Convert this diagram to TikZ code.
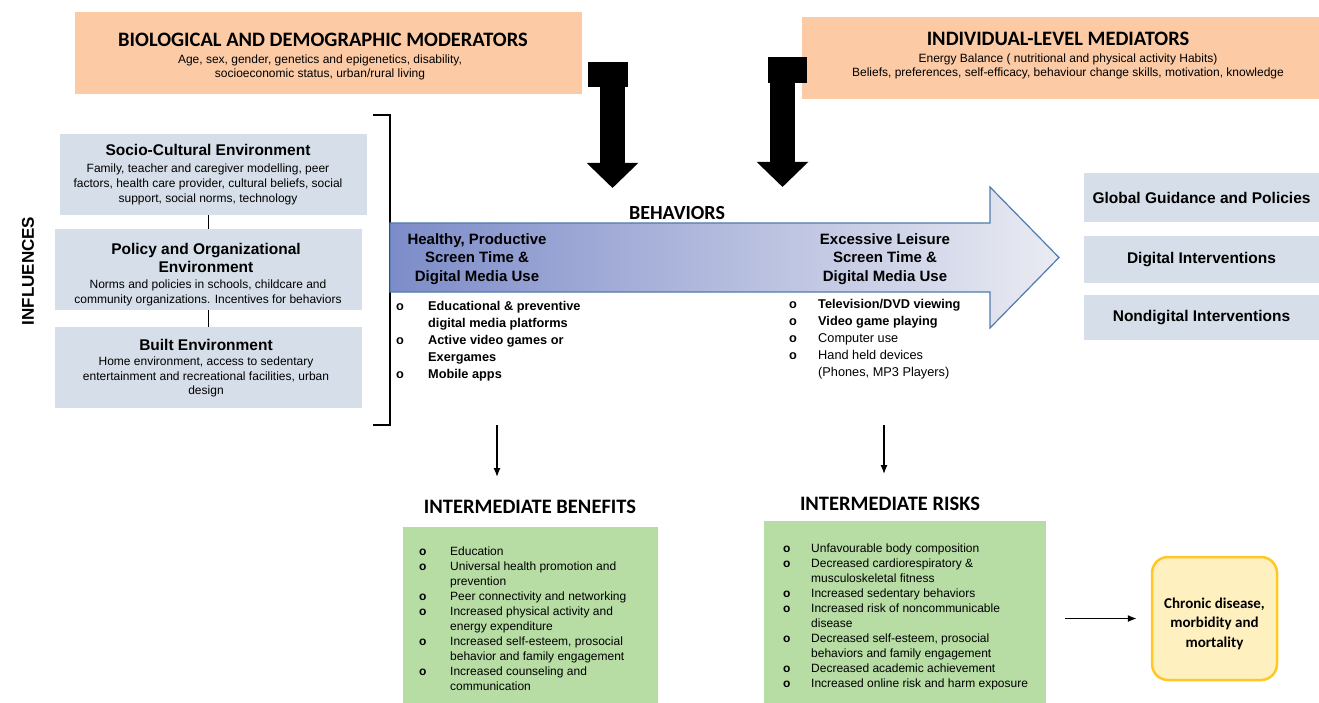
\documentclass[tikz,border=0pt]{standalone}
\usepackage{fontspec}
\setmainfont{Liberation Sans}
\newfontfamily\headfont{Carlito}
\usetikzlibrary{calc,shapes,arrows.meta}
\definecolor{peach}{HTML}{FCCBA6}
\definecolor{envblue}{HTML}{D6DFE9}
\definecolor{leafgreen}{HTML}{B7DDA5}
\definecolor{paleyellow}{HTML}{FFF0BF}
\definecolor{gold}{HTML}{FFC825}
\definecolor{steel}{HTML}{4F7BAE}
\definecolor{arrowleft}{HTML}{7D8CC9}
\definecolor{arrowright}{HTML}{EAEBF2}
\tikzstyle{moderator}=[rectangle,
                       fill=peach,
                       minimum height=82pt,
                       inner sep=0pt]
\tikzstyle{heading}=[inner sep=0pt,
                     font=\headfont\bfseries\fontsize{20.5}{22}\selectfont]
\tikzstyle{smalltext}=[inner sep=0pt,
                       align=center,
                       font=\fontsize{12}{14}\selectfont]
\tikzstyle{env}=[rectangle,
                 fill=envblue,
                 minimum width=307pt,
                 minimum height=81pt,
                 inner sep=0pt]
\tikzstyle{envtitle}=[inner sep=0pt,
                      align=center,
                      font=\bfseries\fontsize{15.5}{18}\selectfont]
\tikzstyle{action}=[rectangle,
                    fill=envblue,
                    minimum width=235pt,
                    inner sep=0pt,
                    font=\bfseries\fontsize{15.5}{16}\selectfont]
\tikzstyle{outcome}=[rectangle,
                     fill=leafgreen,
                     inner sep=0pt]
\tikzstyle{itemlist}=[anchor=north west,
                      inner sep=0pt,
                      align=left]
\tikzstyle{heavy}=[line width=25pt, -{Triangle[length=25pt,width=50pt]}]
\tikzstyle{link}=[line width=1.3pt, -{Latex[length=9pt,width=7pt]}]

\begin{document}
\begin{tikzpicture}[x=1pt,y=-1pt]
      \useasboundingbox (0,0) rectangle (1319,703);

      \node[moderator, minimum width=507pt] (bio) at (328.5, 53) {};
      \node[heading] (bio_title) at (323, 40) {BIOLOGICAL AND DEMOGRAPHIC MODERATORS};
      \node[smalltext] (bio_text) at (320, 67.5) {Age, sex, gender, genetics and epigenetics, disability,\\
                                             socioeconomic status, urban/rural living};

      \node[moderator, minimum width=517pt] (mediator) at (1060.5, 58) {};
      \node[heading] (mediator_title) at (1058, 39) {INDIVIDUAL-LEVEL MEDIATORS};
      \node[smalltext] (mediator_text) at (1068, 66.5) {Energy Balance ( nutritional and physical activity Habits)\\
                                                   Beliefs, preferences, self-efficacy, behaviour change skills, motivation, knowledge};

      \node[fill=black, minimum width=40pt, minimum height=25pt, inner sep=0pt] (bio_cap) at (608, 74.5) {};
      \node[fill=black, minimum width=39pt, minimum height=26pt, inner sep=0pt] (mediator_cap) at (787.5, 70) {};
      \coordinate (bio_tip) at (612.5, 188);
      \coordinate (mediator_tip) at (782.5, 187);
      \draw[heavy] (bio_cap.center -| bio_tip) -- (bio_tip);
      \draw[heavy] (mediator_cap.center -| mediator_tip) -- (mediator_tip);

      \node[rotate=90, inner sep=0pt, font=\bfseries\fontsize{17}{17}\selectfont] (influences) at (28, 271) {INFLUENCES};

      \node[env] (socio) at (213.5, 174.5) {};
      \node[envtitle] (socio_title) at (208, 150) {Socio-Cultural Environment};
      \node[smalltext, font=\fontsize{12}{15}\selectfont] (socio_text) at (208, 184) {Family, teacher and caregiver modelling, peer\\
                                                factors, health care provider, cultural beliefs, social\\
                                                support, social norms, technology};

      \node[env] (policy) at (208.5, 269.5) {};
      \node[envtitle] (policy_title) at (206, 258) {Policy and Organizational\\Environment};
      \node[smalltext, font=\fontsize{12}{15}\selectfont] (policy_text) at (208, 292.5) {Norms and policies in schools, childcare and\\
                                                community organizations. Incentives for behaviors};

      \node[env] (built) at (208.5, 367.5) {};
      \node[envtitle] (built_title) at (206, 345) {Built Environment};
      \node[smalltext, font=\fontsize{12}{14.5}\selectfont] (built_text) at (206, 377) {Home environment, access to sedentary\\
                                                entertainment and recreational facilities, urban\\
                                                design};

      \draw[line width=1.2pt] (socio.south -| policy.north) -- (policy.north);
      \draw[line width=1.2pt] (policy.south) -- (built.north);

      \draw[line width=1.2pt] (373, 115) -- (390, 115) -- (390, 425) -- (373, 425);

      \path[draw=steel, line width=1.2pt, left color=arrowleft, right color=arrowright]
            (390, 223) -- (990, 223) -- (990, 187) -- (1059, 257.5)
            -- (990, 328) -- (990, 292) -- (390, 292) -- cycle;
      \node[heading, font=\headfont\bfseries\fontsize{20}{22}\selectfont] (behaviors) at (677, 213) {BEHAVIORS};
      \node[envtitle, font=\bfseries\fontsize{15}{18.5}\selectfont] (healthy) at (477, 259) {Healthy, Productive\\Screen Time \&\\Digital Media Use};
      \node[envtitle, font=\bfseries\fontsize{15}{18.5}\selectfont] (excessive) at (885, 259) {Excessive Leisure\\Screen Time \&\\Digital Media Use};

      \node[itemlist, font=\bfseries\fontsize{12.75}{17}\selectfont] (healthy_list) at (396, 298) {%
        \begin{tabular}{@{}p{32pt}@{}l@{}}
          o & Educational \& preventive\\
            & digital media platforms\\
          o & Active video games or\\
            & Exergames\\
          o & Mobile apps
        \end{tabular}};
      \node[itemlist, font=\fontsize{12.75}{17}\selectfont] (excessive_list) at (789, 296) {%
        \begin{tabular}{@{}p{29pt}@{}l@{}}
          \textbf{o} & \textbf{Television/DVD viewing}\\
          \textbf{o} & \textbf{Video game playing}\\
          \textbf{o} & Computer use\\
          \textbf{o} & Hand held devices\\
                     & (Phones, MP3 Players)
        \end{tabular}};

      \node[action, minimum height=49pt] (global) at (1201.5, 197.5) {Global Guidance and Policies};
      \node[action, minimum height=47pt] (digital) at (1201.5, 259.5) {Digital Interventions};
      \node[action, minimum height=45pt] (nondigital) at (1201.5, 317.5) {Nondigital Interventions};

      \node[heading] (benefits_title) at (530, 507) {INTERMEDIATE BENEFITS};
      \node[outcome, minimum width=255pt, minimum height=176pt] (benefits) at (530.5, 615) {};
      \node[itemlist, font=\fontsize{12}{15}\selectfont] (benefits_list) at (419, 544.5) {%
        \begin{tabular}{@{}p{31pt}@{}l@{}}
          \textbf{o} & Education\\
          \textbf{o} & Universal health promotion and\\
                     & prevention\\
          \textbf{o} & Peer connectivity and networking\\
          \textbf{o} & Increased physical activity and\\
                     & energy expenditure\\
          \textbf{o} & Increased self-esteem, prosocial\\
                     & behavior and family engagement\\
          \textbf{o} & Increased counseling and\\
                     & communication
        \end{tabular}};

      \node[heading] (risks_title) at (890, 504) {INTERMEDIATE RISKS};
      \node[outcome, minimum width=282pt, minimum height=182pt] (risks) at (905, 612) {};
      \node[itemlist, font=\fontsize{12}{15}\selectfont] (risks_list) at (783, 541.5) {%
        \begin{tabular}{@{}p{28pt}@{}l@{}}
          \textbf{o} & Unfavourable body composition\\
          \textbf{o} & Decreased cardiorespiratory \&\\
                     & musculoskeletal fitness\\
          \textbf{o} & Increased sedentary behaviors\\
          \textbf{o} & Increased risk of noncommunicable\\
                     & disease\\
          \textbf{o} & Decreased self-esteem, prosocial\\
                     & behaviors and family engagement\\
          \textbf{o} & Decreased academic achievement\\
          \textbf{o} & Increased online risk and harm exposure
        \end{tabular}};

      \node[rectangle, rounded corners=16pt, draw=gold, line width=2.5pt, fill=paleyellow,
            minimum width=125pt, minimum height=123pt, align=center,
            font=\headfont\bfseries\fontsize{15}{19.5}\selectfont] (chronic) at (1214.5, 618.5)
            {\rule{0pt}{21pt}Chronic disease,\\morbidity and\\mortality};

      \coordinate (benefits_from) at (497, 425);
      \coordinate (risks_from) at (884, 425);
      \draw[link, shorten >=23pt] (benefits_from) -- (benefits_from |- benefits_title.north);
      \draw[link, shorten >=23pt] (risks_from) -- (risks_from |- risks_title.north);
      \draw[link, shorten <=19pt, shorten >=14pt] (risks.east |- chronic.west) -- (chronic.west);
    \end{tikzpicture}
\end{document}
